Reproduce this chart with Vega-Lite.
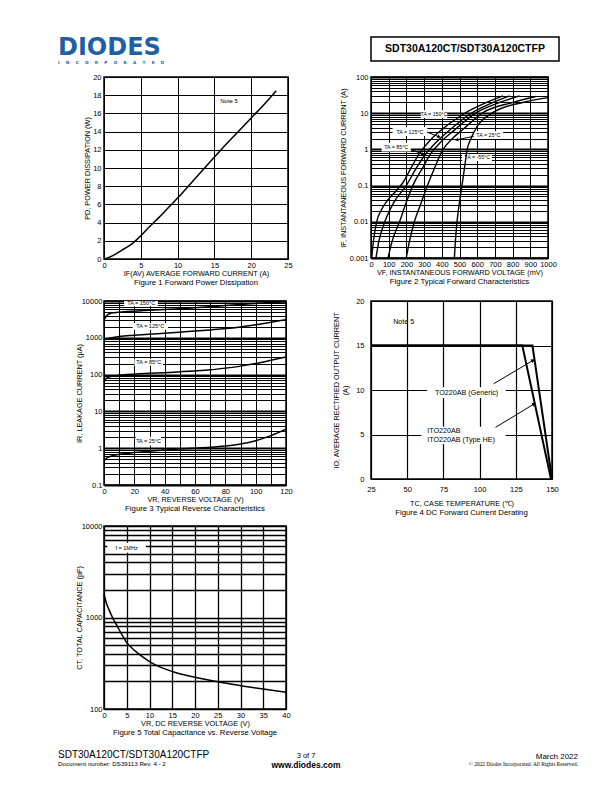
{
  "$schema": "https://vega.github.io/schema/vega-lite/v6.json",
  "background": "white",
  "autosize": {"type": "pad"},
  "padding": {"left": 58, "top": 35, "right": 5, "bottom": 5},
  "columns": 2,
  "bounds": "flush",
  "align": "each",
  "spacing": {"row": 16, "column": 83},
  "config": {
    "font": "Liberation Sans",
    "view": {"stroke": null},
    "axis": {"grid": true, "gridColor": "black", "gridWidth": 1, "gridOpacity": 1, "ticks": false, "domain": false,
      "labelFont": "Liberation Sans", "labelFontSize": 7.5, "labelColor": "black", "labelOverlap": false, "labelFlush": false, "labelBound": false,
      "titleFont": "Liberation Sans", "titleFontSize": 7.3, "titleFontWeight": "normal", "titleColor": "black", "labelPadding": 3, "titlePadding": 2},
    "title": {"font": "Liberation Sans", "fontWeight": "normal", "fontSize": 7.8, "color": "black", "subtitleFont": "Liberation Sans", "subtitleColor": "black"},
    "text": {"font": "Liberation Sans", "color": "black"}
  },
  "concat": [
    {
      "width": 184, "height": 24,
      "data": {"values": [{"a": 1}]},
      "mark": {"type": "point", "opacity": 0},
      "encoding": {},
      "title": {"text": "DIODES", "subtitle": "I\u2003\u2002N\u2003\u2002C\u2003\u2002O\u2003\u2002R\u2003\u2002P\u2003\u2002O\u2003\u2002R\u2003\u2002A\u2003\u2002T\u2003\u2002E\u2003\u2002D", "anchor": "start", "orient": "top", "dx": -46, "offset": -28,
        "font": "DejaVu Sans", "fontSize": 24, "fontWeight": "bold", "color": "#1f5fa8", "subtitleFont": "DejaVu Sans", "subtitleFontWeight": "bold", "subtitleFontSize": 4.2, "subtitleColor": "#1f5fa8", "subtitlePadding": 1}
    },
    {
      "width": 188, "height": 24,
      "view": {"stroke": "black", "strokeWidth": 1.5},
      "data": {"values": [{"t": "SDT30A120CT/SDT30A120CTFP"}]},
      "mark": {"type": "text", "fontWeight": "bold", "fontSize": 10.5},
      "encoding": {"text": {"field": "t"}}
    },
    {
      "width": 184, "height": 182,
      "view": {"stroke": "black", "strokeWidth": 1.5},
      "title": {"text": "Figure 1 Forward Power Dissipation", "orient": "bottom", "offset": 2},
      "encoding": {
        "x": {"field": "x", "type": "quantitative", "scale": {"domain": [0, 25], "nice": false},
          "axis": {"values": [0, 5, 10, 15, 20, 25], "title": "IF(AV) AVERAGE FORWARD CURRENT (A)", "labelPadding": 2, "titlePadding": 1}},
        "y": {"field": "y", "type": "quantitative", "scale": {"domain": [0, 20], "nice": false},
          "axis": {"values": [0, 2, 4, 6, 8, 10, 12, 14, 16, 18, 20], "title": "PD, POWER DISSIPATION (W)", "labelPadding": 3, "titlePadding": 1}}
      },
      "layer": [
        {
          "data": {"values": [
            {"x": 0, "y": 0}, {"x": 0.5, "y": 0.12}, {"x": 1, "y": 0.3}, {"x": 1.5, "y": 0.5}, {"x": 2, "y": 0.75},
            {"x": 2.5, "y": 1.0}, {"x": 3, "y": 1.25}, {"x": 3.5, "y": 1.5}, {"x": 4, "y": 1.8}, {"x": 5, "y": 2.55},
            {"x": 6, "y": 3.4}, {"x": 7, "y": 4.2}, {"x": 8, "y": 5.0}, {"x": 9, "y": 5.85}, {"x": 10, "y": 6.7},
            {"x": 12, "y": 8.5}, {"x": 14, "y": 10.3}, {"x": 16, "y": 12.1}, {"x": 18, "y": 13.8}, {"x": 20, "y": 15.5},
            {"x": 22, "y": 17.2}, {"x": 23.4, "y": 18.5}
          ]},
          "mark": {"type": "line", "color": "black", "strokeWidth": 1.5, "interpolate": "monotone"}
        },
        {
          "data": {"values": [{"x": 17, "y": 17.4, "t": "Note 5"}]},
          "mark": {"type": "text", "fontSize": 6},
          "encoding": {"text": {"field": "t"}}
        }
      ]
    },
    {
      "width": 177, "height": 181,
      "view": {"stroke": "black", "strokeWidth": 1.5},
      "title": {"text": "Figure 2 Typical Forward Characteristics", "orient": "bottom", "offset": 2},
      "encoding": {
        "x": {"field": "x", "type": "quantitative", "scale": {"domain": [0, 1000], "nice": false},
          "axis": {"values": [0, 100, 200, 300, 400, 500, 600, 700, 800, 900, 1000], "format": "d", "title": "VF, INSTANTANEOUS FORWARD VOLTAGE (mV)", "labelPadding": 2, "titlePadding": 1}},
        "y": {"field": "y", "type": "quantitative", "scale": {"type": "log", "domain": [0.001, 100], "nice": false},
          "axis": {"values": [0.001, 0.002, 0.003, 0.004, 0.005, 0.006, 0.007, 0.008, 0.009, 0.01, 0.02, 0.03, 0.04, 0.05, 0.06, 0.07, 0.08, 0.09, 0.1, 0.2, 0.3, 0.4, 0.5, 0.6, 0.7, 0.8, 0.9, 1, 2, 3, 4, 5, 6, 7, 8, 9, 10, 20, 30, 40, 50, 60, 70, 80, 90, 100],
            "format": "~g",
            "labelExpr": "abs(log(datum.value)/LN10 - round(log(datum.value)/LN10)) < 0.001 ? datum.label : ''",
            "gridWidth": {"condition": {"test": "abs(log(datum.value)/LN10 - round(log(datum.value)/LN10)) < 0.001", "value": 2.2}, "value": 1},
            "title": "IF, INSTANTANEOUS FORWARD CURRENT (A)", "labelPadding": 3, "titlePadding": 2}}
      },
      "layer": [
        {
          "data": {"values": [
            {"x": 281, "x2": 431, "y": 7.4, "y2": 12.2},
            {"x": 122, "x2": 318, "y": 2.34, "y2": 4.16},
            {"x": 60, "x2": 225, "y": 0.875, "y2": 1.55},
            {"x": 580, "x2": 747, "y": 1.94, "y2": 3.2},
            {"x": 515, "x2": 683, "y": 0.478, "y2": 0.746}
          ]},
          "mark": {"type": "rect", "color": "white"},
          "encoding": {"x2": {"field": "x2"}, "y2": {"field": "y2"}}
        },
        {
          "data": {"values": [
            {"s": "150", "x": 4, "y": 0.001}, {"s": "150", "x": 14, "y": 0.003}, {"s": "150", "x": 32, "y": 0.01}, {"s": "150", "x": 60, "y": 0.022}, {"s": "150", "x": 95, "y": 0.04}, {"s": "150", "x": 140, "y": 0.07}, {"s": "150", "x": 180, "y": 0.12}, {"s": "150", "x": 225, "y": 0.3}, {"s": "150", "x": 273, "y": 0.76}, {"s": "150", "x": 330, "y": 1.7}, {"s": "150", "x": 393, "y": 3.3}, {"s": "150", "x": 523, "y": 9.5}, {"s": "150", "x": 653, "y": 19.8}, {"s": "150", "x": 746, "y": 30},
            {"s": "125", "x": 28, "y": 0.001}, {"s": "125", "x": 45, "y": 0.003}, {"s": "125", "x": 78, "y": 0.01}, {"s": "125", "x": 130, "y": 0.035}, {"s": "125", "x": 199, "y": 0.1}, {"s": "125", "x": 255, "y": 0.3}, {"s": "125", "x": 310, "y": 0.76}, {"s": "125", "x": 370, "y": 1.6}, {"s": "125", "x": 430, "y": 2.96}, {"s": "125", "x": 560, "y": 9.5}, {"s": "125", "x": 690, "y": 19.8}, {"s": "125", "x": 783, "y": 30},
            {"s": "85", "x": 96, "y": 0.001}, {"s": "85", "x": 120, "y": 0.003}, {"s": "85", "x": 161, "y": 0.01}, {"s": "85", "x": 200, "y": 0.035}, {"s": "85", "x": 236, "y": 0.1}, {"s": "85", "x": 290, "y": 0.3}, {"s": "85", "x": 338, "y": 0.76}, {"s": "85", "x": 400, "y": 1.7}, {"s": "85", "x": 468, "y": 3.3}, {"s": "85", "x": 597, "y": 10.5}, {"s": "85", "x": 727, "y": 19.8}, {"s": "85", "x": 839, "y": 30},
            {"s": "25", "x": 199, "y": 0.001}, {"s": "25", "x": 218, "y": 0.003}, {"s": "25", "x": 245, "y": 0.01}, {"s": "25", "x": 280, "y": 0.03}, {"s": "25", "x": 319, "y": 0.1}, {"s": "25", "x": 362, "y": 0.33}, {"s": "25", "x": 403, "y": 0.93}, {"s": "25", "x": 460, "y": 2}, {"s": "25", "x": 523, "y": 3.7}, {"s": "25", "x": 635, "y": 10.5}, {"s": "25", "x": 801, "y": 19.8}, {"s": "25", "x": 931, "y": 29},
            {"s": "-55", "x": 471, "y": 0.001}, {"s": "-55", "x": 477, "y": 0.003}, {"s": "-55", "x": 486, "y": 0.01}, {"s": "-55", "x": 498, "y": 0.03}, {"s": "-55", "x": 514, "y": 0.1}, {"s": "-55", "x": 528, "y": 0.3}, {"s": "-55", "x": 542, "y": 0.93}, {"s": "-55", "x": 565, "y": 2}, {"s": "-55", "x": 597, "y": 4.1}, {"s": "-55", "x": 690, "y": 10.5}, {"s": "-55", "x": 857, "y": 19.8}, {"s": "-55", "x": 1000, "y": 27}
          ]},
          "mark": {"type": "line", "color": "black", "strokeWidth": 1.4, "interpolate": "monotone", "clip": true},
          "encoding": {"detail": {"field": "s", "type": "nominal"}}
        },
        {
          "data": {"values": [
            {"x": 356, "y": 9.5, "t": "TA = 150°C"},
            {"x": 220, "y": 3.1, "t": "TA = 125°C"},
            {"x": 142, "y": 1.16, "t": "TA = 85°C"},
            {"x": 663, "y": 2.5, "t": "TA = 25°C"},
            {"x": 600, "y": 0.6, "t": "TA = -55°C"}
          ]},
          "mark": {"type": "text", "fontSize": 5.3},
          "encoding": {"text": {"field": "t"}}
        },
        {
          "data": {"values": [
            {"x": 318, "y": 3.0, "x2": 382, "y2": 2.24},
            {"x": 225, "y": 1.0, "x2": 290, "y2": 0.746},
            {"x": 580, "y": 2.3, "x2": 487, "y2": 1.85}
          ]},
          "mark": {"type": "rule", "color": "black", "strokeWidth": 1},
          "encoding": {"x2": {"field": "x2"}, "y2": {"field": "y2"}}
        },
        {
          "data": {"values": [
            {"x": 382, "y": 2.24, "a": 113},
            {"x": 290, "y": 0.746, "a": 113},
            {"x": 487, "y": 1.85, "a": 257}
          ]},
          "mark": {"type": "point", "shape": "triangle", "filled": true, "color": "black", "opacity": 1, "size": 14},
          "encoding": {"angle": {"field": "a", "type": "quantitative", "scale": null}}
        }
      ]
    },
    {"width": 10, "height": 10, "data": {"values": [{"a": 1}]}, "mark": {"type": "point", "opacity": 0}, "encoding": {}},
    {"width": 10, "height": 10, "data": {"values": [{"a": 1}]}, "mark": {"type": "point", "opacity": 0}, "encoding": {}},
    {
      "width": 182, "height": 184,
      "view": {"stroke": "black", "strokeWidth": 1.5},
      "title": {"text": "Figure 3 Typical Reverse Characteristics", "orient": "bottom", "offset": 2},
      "encoding": {
        "x": {"field": "x", "type": "quantitative", "scale": {"domain": [0, 120], "nice": false},
          "axis": {"values": [0, 10, 20, 30, 40, 50, 60, 70, 80, 90, 100, 110, 120], "labelExpr": "datum.value % 20 === 0 ? datum.label : ''", "title": "VR, REVERSE VOLTAGE (V)", "labelPadding": 2, "titlePadding": 1}},
        "y": {"field": "y", "type": "quantitative", "scale": {"type": "log", "domain": [0.1, 10000], "nice": false},
          "axis": {"values": [0.1, 0.2, 0.3, 0.4, 0.5, 0.6, 0.7, 0.8, 0.9, 1, 2, 3, 4, 5, 6, 7, 8, 9, 10, 20, 30, 40, 50, 60, 70, 80, 90, 100, 200, 300, 400, 500, 600, 700, 800, 900, 1000, 2000, 3000, 4000, 5000, 6000, 7000, 8000, 9000, 10000],
            "format": "~g",
            "labelExpr": "abs(log(datum.value)/LN10 - round(log(datum.value)/LN10)) < 0.001 ? datum.label : ''",
            "gridWidth": {"condition": {"test": "abs(log(datum.value)/LN10 - round(log(datum.value)/LN10)) < 0.001", "value": 2.2}, "value": 1},
            "title": "IR, LEAKAGE CURRENT (µA)", "labelPadding": 2, "titlePadding": -2}}
      },
      "layer": [
        {
          "data": {"values": [
            {"x": 13.3, "x2": 35.5, "y": 7180, "y2": 10000},
            {"x": 18.9, "x2": 42.2, "y": 1660, "y2": 2520},
            {"x": 20, "x2": 38.9, "y": 175, "y2": 265},
            {"x": 21, "x2": 37.7, "y": 1.17, "y2": 2.05}
          ]},
          "mark": {"type": "rect", "color": "white"},
          "encoding": {"x2": {"field": "x2"}, "y2": {"field": "y2"}}
        },
        {
          "data": {"values": [
            {"s": "150", "x": 0, "y": 3000}, {"s": "150", "x": 1, "y": 3600}, {"s": "150", "x": 2, "y": 4100}, {"s": "150", "x": 4, "y": 4600}, {"s": "150", "x": 7, "y": 4800}, {"s": "150", "x": 10, "y": 4950}, {"s": "150", "x": 20, "y": 5300}, {"s": "150", "x": 30, "y": 5600}, {"s": "150", "x": 40, "y": 5900}, {"s": "150", "x": 50, "y": 6200}, {"s": "150", "x": 60, "y": 6550}, {"s": "150", "x": 70, "y": 7000}, {"s": "150", "x": 80, "y": 7500}, {"s": "150", "x": 90, "y": 8000}, {"s": "150", "x": 100, "y": 8600}, {"s": "150", "x": 110, "y": 9100}, {"s": "150", "x": 120, "y": 9600},
            {"s": "125", "x": 0, "y": 880}, {"s": "125", "x": 5, "y": 1000}, {"s": "125", "x": 10, "y": 1080}, {"s": "125", "x": 20, "y": 1170}, {"s": "125", "x": 30, "y": 1250}, {"s": "125", "x": 40, "y": 1330}, {"s": "125", "x": 50, "y": 1420}, {"s": "125", "x": 60, "y": 1520}, {"s": "125", "x": 70, "y": 1640}, {"s": "125", "x": 80, "y": 1780}, {"s": "125", "x": 90, "y": 1980}, {"s": "125", "x": 100, "y": 2250}, {"s": "125", "x": 110, "y": 2650}, {"s": "125", "x": 120, "y": 3100},
            {"s": "85", "x": 0, "y": 62}, {"s": "85", "x": 1, "y": 75}, {"s": "85", "x": 3, "y": 85}, {"s": "85", "x": 5, "y": 90}, {"s": "85", "x": 10, "y": 96}, {"s": "85", "x": 20, "y": 103}, {"s": "85", "x": 30, "y": 108}, {"s": "85", "x": 40, "y": 113}, {"s": "85", "x": 50, "y": 119}, {"s": "85", "x": 60, "y": 126}, {"s": "85", "x": 70, "y": 135}, {"s": "85", "x": 80, "y": 150}, {"s": "85", "x": 90, "y": 170}, {"s": "85", "x": 100, "y": 200}, {"s": "85", "x": 110, "y": 245}, {"s": "85", "x": 120, "y": 300},
            {"s": "25", "x": 0, "y": 0.45}, {"s": "25", "x": 2, "y": 0.55}, {"s": "25", "x": 5, "y": 0.62}, {"s": "25", "x": 10, "y": 0.68}, {"s": "25", "x": 20, "y": 0.76}, {"s": "25", "x": 30, "y": 0.83}, {"s": "25", "x": 40, "y": 0.89}, {"s": "25", "x": 50, "y": 0.95}, {"s": "25", "x": 60, "y": 1.0}, {"s": "25", "x": 70, "y": 1.06}, {"s": "25", "x": 80, "y": 1.15}, {"s": "25", "x": 90, "y": 1.3}, {"s": "25", "x": 100, "y": 1.6}, {"s": "25", "x": 110, "y": 2.2}, {"s": "25", "x": 120, "y": 3.3}
          ]},
          "mark": {"type": "line", "color": "black", "strokeWidth": 1.5, "interpolate": "monotone", "clip": true},
          "encoding": {"detail": {"field": "s", "type": "nominal"}}
        },
        {
          "data": {"values": [
            {"x": 24.5, "y": 8830, "t": "TA = 150°C"},
            {"x": 30.5, "y": 2050, "t": "TA = 125°C"},
            {"x": 29.5, "y": 216, "t": "TA = 85°C"},
            {"x": 29.4, "y": 1.57, "t": "TA = 25°C"}
          ]},
          "mark": {"type": "text", "fontSize": 5.5},
          "encoding": {"text": {"field": "t"}}
        }
      ]
    },
    {
      "width": 181, "height": 178,
      "view": {"stroke": "black", "strokeWidth": 1.5},
      "title": {"text": "Figure 4 DC Forward Current Derating", "orient": "bottom", "offset": 2},
      "encoding": {
        "x": {"field": "x", "type": "quantitative", "scale": {"domain": [25, 150], "nice": false, "zero": false},
          "axis": {"values": [25, 50, 75, 100, 125, 150], "title": "TC, CASE TEMPERATURE (℃)", "labelPadding": 6, "titlePadding": 7, "gridWidth": 1.2}},
        "y": {"field": "y", "type": "quantitative", "scale": {"domain": [0, 20], "nice": false},
          "axis": {"values": [0, 5, 10, 15, 20], "title": ["IO, AVERAGE RECTIFIED OUTPUT CURRENT", "(A)"], "titleLineHeight": 9, "labelPadding": 7, "titlePadding": 6, "gridWidth": 1.2}}
      },
      "layer": [
        {
          "data": {"values": [
            {"x": 63.8, "x2": 118, "y": 9.1, "y2": 10.3},
            {"x": 59.8, "x2": 118, "y": 3.93, "y2": 5.88}
          ]},
          "mark": {"type": "rect", "color": "white"},
          "encoding": {"x2": {"field": "x2"}, "y2": {"field": "y2"}}
        },
        {
          "data": {"values": [
            {"s": "a", "x": 25, "y": 15}, {"s": "a", "x": 129.5, "y": 15}, {"s": "a", "x": 149.3, "y": 0},
            {"s": "b", "x": 25, "y": 15}, {"s": "b", "x": 136.5, "y": 15}, {"s": "b", "x": 150, "y": 0}
          ]},
          "mark": {"type": "line", "color": "black", "strokeWidth": 2},
          "encoding": {"detail": {"field": "s", "type": "nominal"}}
        },
        {
          "data": {"values": [
            {"x": 47.6, "y": 17.6, "t": "Note 5"},
            {"x": 91, "y": 9.7, "t": "TO220AB (Generic)"}
          ]},
          "mark": {"type": "text", "fontSize": 7.2},
          "encoding": {"text": {"field": "t"}}
        },
        {
          "data": {"values": [
            {"x": 63.8, "y": 5.43, "t": "ITO220AB"},
            {"x": 63.8, "y": 4.42, "t": "ITO220AB (Type HE)"}
          ]},
          "mark": {"type": "text", "fontSize": 7.2, "align": "left"},
          "encoding": {"text": {"field": "t"}}
        },
        {
          "data": {"values": [
            {"x": 109.7, "y": 10.7, "x2": 136.6, "y2": 13.3},
            {"x": 111, "y": 5.8, "x2": 137.3, "y2": 8.4}
          ]},
          "mark": {"type": "rule", "color": "black", "strokeWidth": 1},
          "encoding": {"x2": {"field": "x2"}, "y2": {"field": "y2"}}
        },
        {
          "data": {"values": [
            {"x": 136.6, "y": 13.3, "a": 59},
            {"x": 137.3, "y": 8.4, "a": 58}
          ]},
          "mark": {"type": "point", "shape": "triangle", "filled": true, "color": "black", "opacity": 1, "size": 18},
          "encoding": {"angle": {"field": "a", "type": "quantitative", "scale": null}}
        }
      ]
    },
    {"width": 10, "height": 9, "data": {"values": [{"a": 1}]}, "mark": {"type": "point", "opacity": 0}, "encoding": {}},
    {"width": 10, "height": 9, "data": {"values": [{"a": 1}]}, "mark": {"type": "point", "opacity": 0}, "encoding": {}},
    {
      "width": 182, "height": 183,
      "view": {"stroke": "black", "strokeWidth": 1.5},
      "title": {"text": "Figure 5 Total Capacitance vs. Reverse Voltage", "orient": "bottom", "offset": 2},
      "encoding": {
        "x": {"field": "x", "type": "quantitative", "scale": {"domain": [0, 40], "nice": false},
          "axis": {"values": [0, 5, 10, 15, 20, 25, 30, 35, 40], "title": "VR, DC REVERSE VOLTAGE (V)", "labelPadding": 2, "titlePadding": 1, "gridWidth": 1.3}},
        "y": {"field": "y", "type": "quantitative", "scale": {"type": "log", "domain": [100, 10000], "nice": false},
          "axis": {"values": [100, 200, 300, 400, 500, 600, 700, 800, 900, 1000, 2000, 3000, 4000, 5000, 6000, 7000, 8000, 9000, 10000],
            "format": "~g",
            "labelExpr": "abs(log(datum.value)/LN10 - round(log(datum.value)/LN10)) < 0.001 ? datum.label : ''",
            "gridWidth": 1.3,
            "title": "CT, TOTAL CAPACITANCE (pF)", "labelPadding": 2, "titlePadding": -2}}
      },
      "layer": [
        {
          "data": {"values": [{"x": 0.73, "x2": 9.2, "y": 5100, "y2": 6560}]},
          "mark": {"type": "rect", "color": "white"},
          "encoding": {"x2": {"field": "x2"}, "y2": {"field": "y2"}}
        },
        {
          "data": {"values": [
            {"x": 0, "y": 1800}, {"x": 0.5, "y": 1450}, {"x": 1, "y": 1250}, {"x": 2, "y": 970}, {"x": 3, "y": 790},
            {"x": 4, "y": 640}, {"x": 5, "y": 530}, {"x": 6, "y": 470}, {"x": 7.5, "y": 405}, {"x": 10, "y": 330},
            {"x": 12.5, "y": 285}, {"x": 15, "y": 257}, {"x": 20, "y": 222}, {"x": 25, "y": 198}, {"x": 30, "y": 180},
            {"x": 35, "y": 165}, {"x": 40, "y": 152}
          ]},
          "mark": {"type": "line", "color": "black", "strokeWidth": 1.5, "interpolate": "monotone"}
        },
        {
          "data": {"values": [{"x": 4.96, "y": 5780, "t": "f = 1MHz"}]},
          "mark": {"type": "text", "fontSize": 5.5},
          "encoding": {"text": {"field": "t"}}
        }
      ]
    },
    {"width": 10, "height": 10, "data": {"values": [{"a": 1}]}, "mark": {"type": "point", "opacity": 0}, "encoding": {}},
    {"width": 10, "height": 9, "data": {"values": [{"a": 1}]}, "mark": {"type": "point", "opacity": 0}, "encoding": {}},
    {"width": 10, "height": 9, "data": {"values": [{"a": 1}]}, "mark": {"type": "point", "opacity": 0}, "encoding": {},
      "title": {"text": "3 of 7", "subtitle": "www.diodes.com", "orient": "bottom", "anchor": "start", "align": "center", "dx": -65, "offset": 18,
        "fontSize": 7.5, "subtitleFontSize": 8.5, "subtitleFontWeight": "bold", "subtitlePadding": 1}},
    {"width": 184, "height": 22, "data": {"values": [{"a": 1}]}, "mark": {"type": "point", "opacity": 0}, "encoding": {},
      "title": {"text": "SDT30A120CT/SDT30A120CTFP", "subtitle": "Document number: DS39113 Rev. 4 - 2", "orient": "top", "anchor": "start", "dx": -46, "offset": -17,
        "fontSize": 10, "subtitleFontSize": 6.2, "subtitlePadding": 1}},
    {"width": 188, "height": 22, "data": {"values": [{"a": 1}]}, "mark": {"type": "point", "opacity": 0}, "encoding": {},
      "title": {"text": "March 2022", "subtitle": "© 2022 Diodes Incorporated. All Rights Reserved.", "orient": "top", "anchor": "end", "dx": 19, "offset": -17,
        "fontSize": 8, "subtitleFont": "Liberation Serif", "subtitleFontSize": 5.4, "subtitlePadding": 1}}
  ]
}
